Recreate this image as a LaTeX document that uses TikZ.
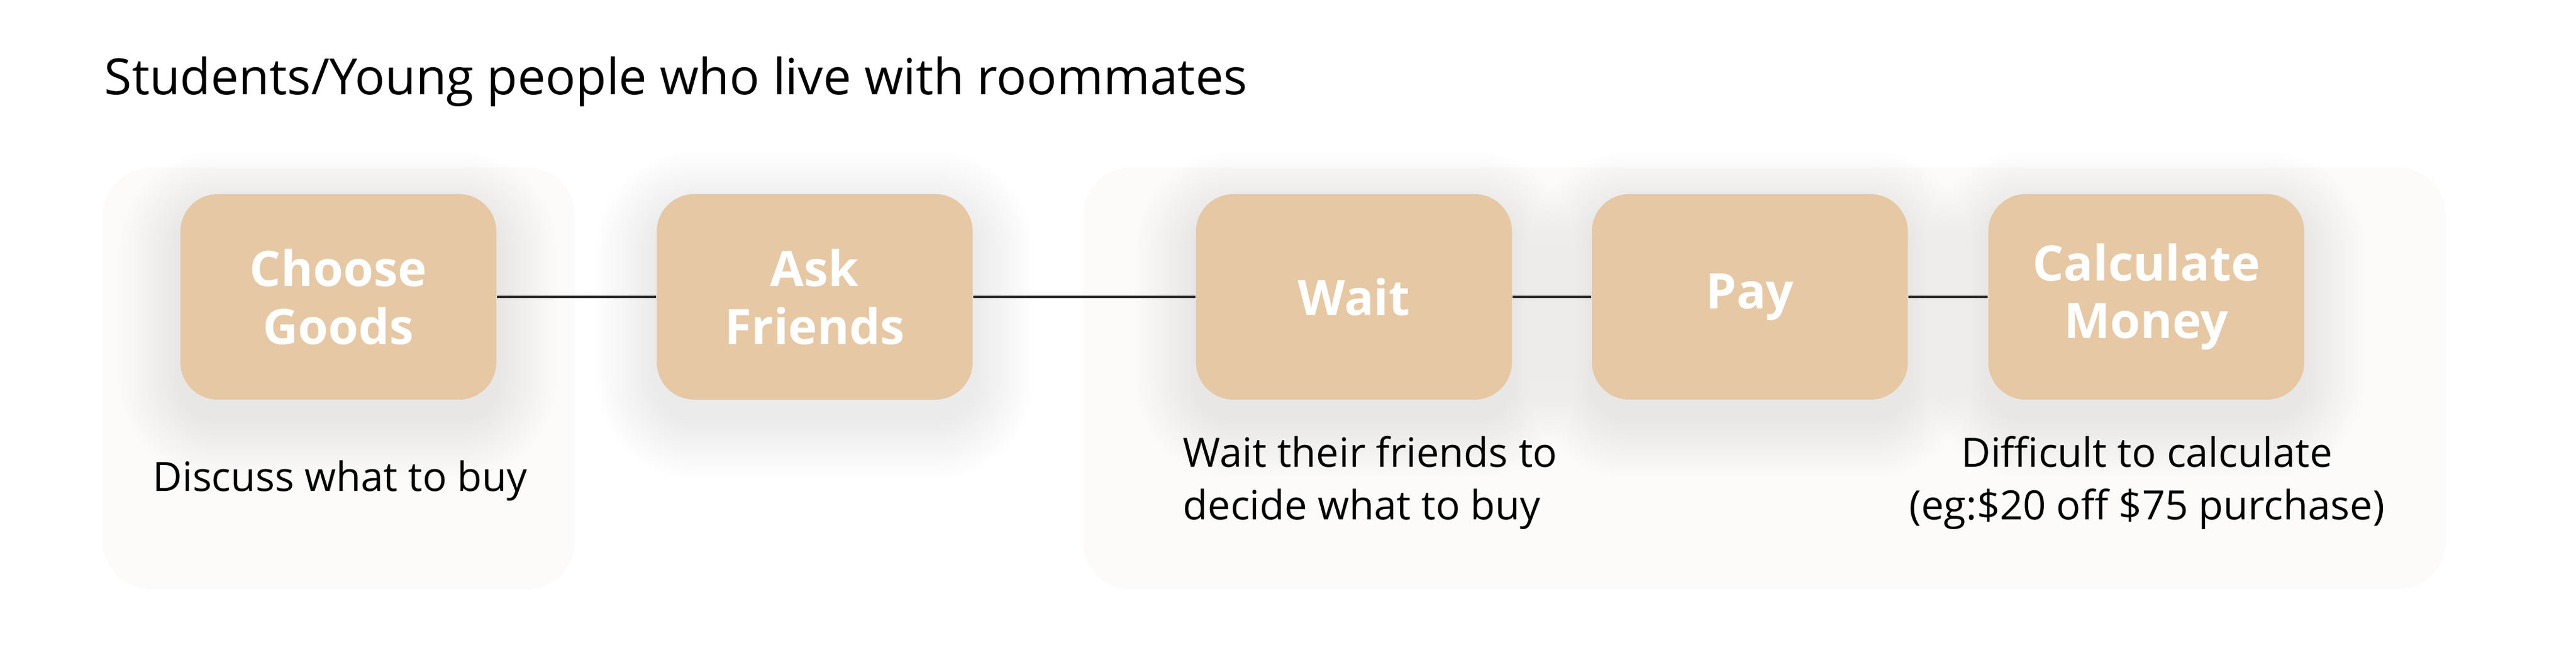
\documentclass[tikz,border=0pt]{standalone}
\usepackage{fontspec}
\setmainfont{Open Sans}
\usepackage{xcolor}
\usetikzlibrary{positioning,calc}
\definecolor{stepfill}{HTML}{E6C8A5}
\definecolor{panelfill}{HTML}{FCFBF9}
\definecolor{linkgray}{HTML}{333333}
\pgfdeclarelayer{back}
\pgfdeclarelayer{shade}
\pgfsetlayers{back,shade,main}

\tikzset{
  stepbox/.style={draw=none, fill=stepfill, rounded corners=0.62cm,
    minimum width=5.22cm, minimum height=3.40cm, inner sep=0pt,
    align=center, text=white, font=\fontsize{23}{27.3}\selectfont\bfseries},
  note/.style={inner sep=0pt, font=\fontsize{19}{25}\selectfont},
  link/.style={draw=linkgray, line width=1pt}
}

\begin{document}
\begin{tikzpicture}
	\useasboundingbox (0,0) rectangle (42.56,10.8);
	% Background panels
	\begin{pgfonlayer}{back}
	\fill[white] (0,0) rectangle (42.56,10.8);
	\fill[panelfill, rounded corners=0.8cm] (1.70,1.05) rectangle (9.50,8.03);
	\fill[panelfill, rounded corners=0.8cm] (17.89,1.05) rectangle (40.41,8.03);
	\end{pgfonlayer}

	% Title
	\node [anchor=base west, inner sep=0pt, font=\fontsize{23.5}{27}\selectfont] (title) at (1.72,9.23) {Students/Young people who live with roommates};

	% Place nodes
	\node [stepbox] (choose) at (5.59,5.89) {Choose\\Goods};
	\node [stepbox] (ask) at (13.46,5.89) {Ask\\Friends};
	\node [stepbox] (wait) at (22.37,5.89) {Wait};
	\node [stepbox] (pay) at (28.91,5.89) {Pay};
	\node [stepbox] (calc) at (35.46,5.89) {Calculate\\Money};

	% Soft shadows under the boxes
	\begin{pgfonlayer}{shade}
	\foreach \n in {choose,ask,wait,pay,calc}
	  \foreach \i in {1,...,20} {
	    \pgfmathsetmacro{\d}{\i*0.05}
	    \pgfmathsetmacro{\r}{0.62+\d}
	    \fill[black, opacity=0.0055, rounded corners=\r cm]
	      ($(\n.south west)+(-\d,-\d-0.3)$) rectangle ($(\n.north east)+(\d,\d-0.3)$);
	  }
	\end{pgfonlayer}

	% Notes (base = last line)
	\node [note, anchor=base] (chooseNote) at (5.62,2.67) {Discuss what to buy};
	\node [note, anchor=base west, align=left] (waitNote) at (19.54,2.20) {Wait their friends to\\decide what to buy};
	\node [note, anchor=base, align=center] (calcNote) at (35.47,2.20) {Difficult to calculate\\(eg:\$20 off \$75 purchase)};

	% Draw edges
	\draw [link] (choose) -- (ask);
	\draw [link] (ask) -- (wait);
	\draw [link] (wait) -- (pay);
	\draw [link] (pay) -- (calc);
\end{tikzpicture}
\end{document}
